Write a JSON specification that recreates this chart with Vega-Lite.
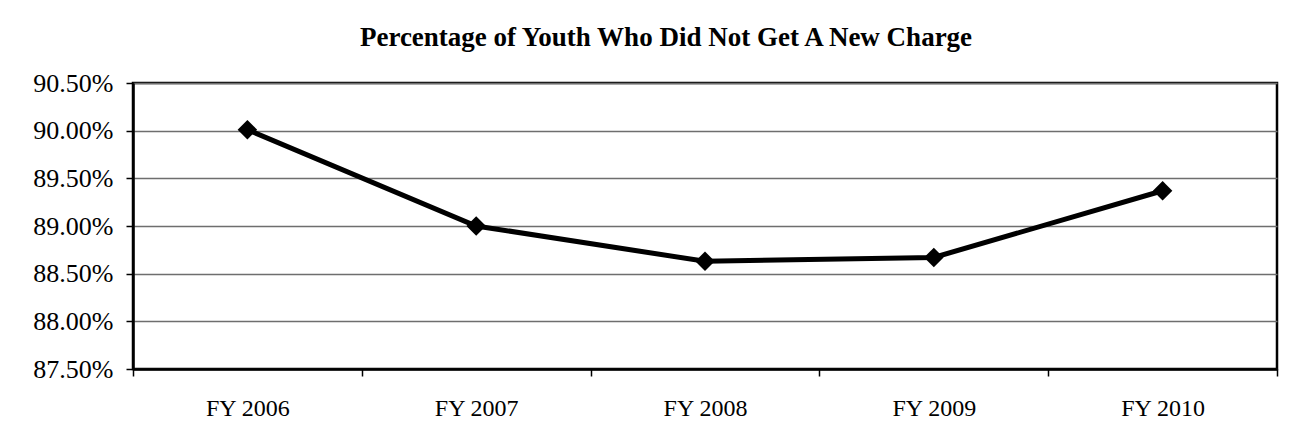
{
  "$schema": "https://vega.github.io/schema/vega-lite/v6.json",
  "autosize": {"type": "none"},
  "padding": {"left": 133, "top": 83, "right": 19, "bottom": 74},
  "width": 1144,
  "height": 286,
  "background": "white",
  "title": {
    "text": "Percentage of Youth Who Did Not Get A New Charge",
    "font": "Liberation Serif",
    "fontSize": 27,
    "fontWeight": "bold",
    "color": "black",
    "anchor": "middle",
    "frame": "group",
    "baseline": "alphabetic",
    "dx": -39,
    "offset": -3
  },
  "data": {
    "values": [
      {"year": "FY 2006", "rate": 0.9001},
      {"year": "FY 2007", "rate": 0.8900},
      {"year": "FY 2008", "rate": 0.8863},
      {"year": "FY 2009", "rate": 0.8867},
      {"year": "FY 2010", "rate": 0.8937}
    ]
  },
  "config": {
    "view": {"stroke": "black", "strokeWidth": 2.5},
    "axis": {
      "labelFont": "Liberation Serif",
      "labelFontSize": 24,
      "labelColor": "black",
      "domainColor": "black",
      "tickColor": "black",
      "tickSize": 7,
      "tickWidth": 1.5,
      "title": null
    }
  },
  "encoding": {
    "x": {
      "field": "year",
      "type": "ordinal",
      "scale": {"paddingInner": 0, "paddingOuter": 0},
      "axis": {
        "labelAngle": 0,
        "tickBand": "extent",
        "domainWidth": 2.5,
        "labelBaseline": "top",
        "labelPadding": 20,
        "grid": false
      }
    },
    "y": {
      "field": "rate",
      "type": "quantitative",
      "scale": {"domain": [0.875, 0.905], "zero": false, "nice": false},
      "axis": {
        "values": [0.875, 0.88, 0.885, 0.89, 0.895, 0.9, 0.905],
        "format": ".2%",
        "labelFontSize": 26,
        "grid": true,
        "gridColor": "#6e6e6e",
        "gridWidth": 1.5,
        "gridOpacity": 1,
        "domainWidth": 2.5,
        "labelPadding": 13
      }
    }
  },
  "layer": [
    {"mark": {"type": "line", "color": "black", "strokeWidth": 5}},
    {"mark": {"type": "point", "shape": "diamond", "filled": true, "color": "black", "opacity": 1, "size": 380}}
  ]
}
